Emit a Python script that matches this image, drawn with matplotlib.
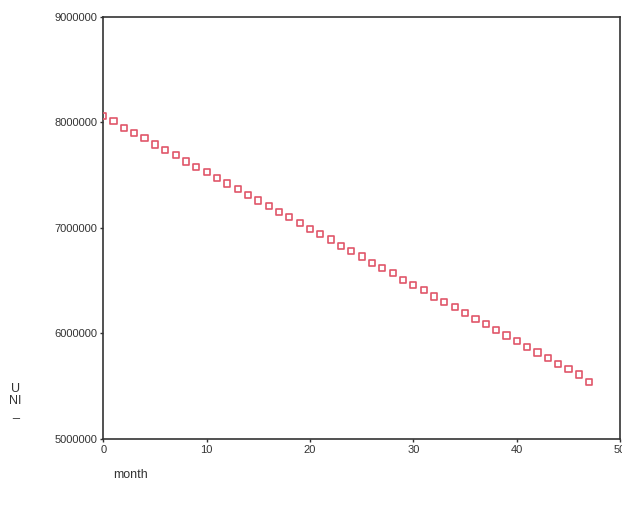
"""Scatter of monthly values against month, SPSS-style."""

import matplotlib

matplotlib.use("Agg")

import matplotlib.pyplot as plt

MONTHS = list(range(48))
VALUES = [
    8060000, 8010000, 7950000, 7900000, 7850000, 7790000, 7740000, 7690000,
    7630000, 7580000, 7530000, 7470000, 7420000, 7370000, 7310000, 7260000,
    7210000, 7150000, 7100000, 7050000, 6990000, 6940000, 6890000, 6830000,
    6780000, 6730000, 6670000, 6620000, 6570000, 6510000, 6460000, 6410000,
    6350000, 6300000, 6250000, 6190000, 6140000, 6090000, 6030000, 5980000,
    5930000, 5870000, 5820000, 5770000, 5710000, 5660000, 5610000, 5540000,
]
X_TICKS = [0, 10, 20, 30, 40, 50]
Y_TICKS = [5000000, 6000000, 7000000, 8000000, 9000000]

TEXT_COLOR = "#333333"
AXIS_COLOR = "#333333"
MARKER_COLOR = "#e0566a"

plt.rcParams.update({
    "font.family": ["Liberation Sans", "DejaVu Sans"],
    "font.size": 8,
})

fig = plt.figure(figsize=(6.22, 5.11), dpi=100)
fig.patch.set_facecolor("white")
ax = fig.add_axes([0.166, 0.141, 0.831, 0.826])

ax.scatter(MONTHS, VALUES, marker="s", s=20, facecolors="none",
           edgecolors=MARKER_COLOR, linewidths=1.2, zorder=3)

ax.set_xlim(0, 50)
ax.set_ylim(5000000, 9000000)
ax.set_xticks(X_TICKS)
ax.set_yticks(Y_TICKS)
ax.set_yticklabels([str(v) for v in Y_TICKS])
ax.tick_params(axis="both", direction="out", length=2, width=1.0,
               color=AXIS_COLOR, labelcolor=TEXT_COLOR, labelsize=8, pad=2)
for spine in ax.spines.values():
    spine.set_color(AXIS_COLOR)
    spine.set_linewidth(1.2)

fig.text(0.21, 0.07, "month", ha="center", va="center", fontsize=9, color=TEXT_COLOR)
fig.text(0.025, 0.215, "U\nNI\n_", ha="center", va="center", fontsize=9,
         color=TEXT_COLOR, linespacing=1.0)

fig.savefig("out.png", dpi=100, facecolor="white")
